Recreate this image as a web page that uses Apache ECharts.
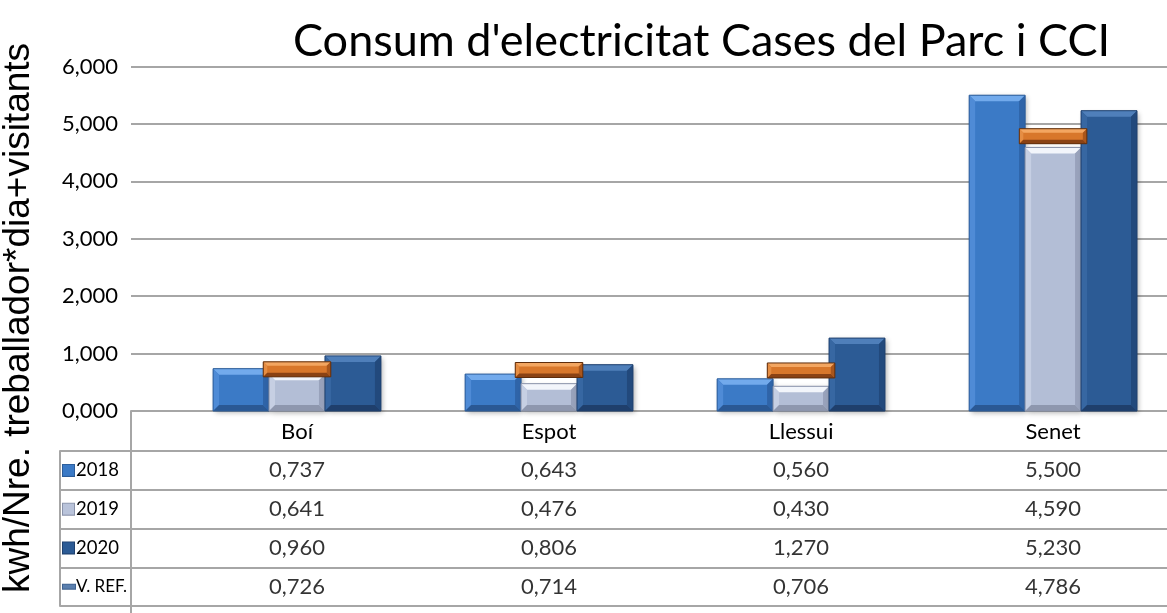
<!DOCTYPE html>
<html style="height: 100%">
<head>
<meta charset="utf-8">
<script src="https://cdn.jsdelivr.net/npm/echarts@6/dist/echarts.min.js"></script>
</head>
<body style="width:1167px;height:613px;margin:0;background:#fff">
<div id="container" style="width:1167px;height:613px;"></div>
<script type="text/javascript">
// data
var categories = ['Boí', 'Espot', 'Llessui', 'Senet'];
var rowNames = ['2018', '2019', '2020', 'V. REF.'];
var v2018 = [0.737, 0.643, 0.560, 5.500];
var v2019 = [0.641, 0.476, 0.430, 4.590];
var v2020 = [0.960, 0.806, 1.270, 5.230];
var vRef = [0.726, 0.714, 0.706, 4.786];
var yTicks = [0, 1, 2, 3, 4, 5, 6];

var FONT = 'Lato, sans-serif';
var GRID = '#a6a6a6';
var BAR_W = 0.222, REF_W = 0.268;

function fmt(v) { return v.toFixed(3).replace('.', ','); }

// palettes: face, top, left, right, bottom
var pal2018 = { face: '#3b7ac6', top: '#72aaec', left: '#4f8bd6', right: '#2f64a8', bottom: '#2a5894', edge: '#2c5c98' };
var pal2019 = { face: '#b3bed6', top: '#f2f5fb', left: '#c6cfe3', right: '#98a2bb', bottom: '#8e97ae', edge: '#8a93aa' };
var pal2020 = { face: '#2c5b95', top: '#4f7fba', left: '#3767a2', right: '#22497c', bottom: '#1f3f6c', edge: '#1f416f' };
var palRef = { face: '#d8772b', top: '#f3a661', left: '#e58d43', right: '#a9561c', bottom: '#8a4214', edge: '#5e2c0b' };

function bevel(x, y, w, h, p, b, shadow) {
    b = Math.min(b, h / 2);
    var kids = [
        { type: 'rect', shape: { x: x, y: y, width: w, height: h },
          style: shadow ? { fill: p.face, shadowBlur: 5, shadowColor: 'rgba(0,0,0,0.3)', shadowOffsetX: 2, shadowOffsetY: 2 } : { fill: p.face } },
        { type: 'polygon', shape: { points: [[x, y], [x + w, y], [x + w - b, y + b], [x + b, y + b]] }, style: { fill: p.top } },
        { type: 'polygon', shape: { points: [[x, y], [x + b, y + b], [x + b, y + h - b], [x, y + h]] }, style: { fill: p.left } },
        { type: 'polygon', shape: { points: [[x + w, y], [x + w, y + h], [x + w - b, y + h - b], [x + w - b, y + b]] }, style: { fill: p.right } },
        { type: 'polygon', shape: { points: [[x, y + h], [x + b, y + h - b], [x + w - b, y + h - b], [x + w, y + h]] }, style: { fill: p.bottom } },
        { type: 'rect', shape: { x: x, y: y, width: w, height: h }, style: { fill: 'none', stroke: p.edge, lineWidth: 1 } }
    ];
    return { type: 'group', children: kids };
}

function barSeries(name, values, offset, pal) {
    return {
        type: 'custom', name: name, z: 2,
        data: values.map(function (v, i) { return [i, v]; }),
        renderItem: function (params, api) {
            var i = api.value(0), v = api.value(1);
            var top = api.coord([i + offset, v]);
            var base = api.coord([i + offset, 0]);
            var w = api.size([BAR_W, 0])[0];
            return bevel(top[0] - w / 2, top[1], w, base[1] - top[1], pal, 6, true);
        }
    };
}

var tableData = [];
[v2018, v2019, v2020, vRef].forEach(function (arr, r) {
    arr.forEach(function (v, i) { tableData.push([i, r, v]); });
});

var iconRich = {
    i0: { width: 11, height: 11, backgroundColor: '#3b7ac6', borderColor: '#2c5c98', borderWidth: 1 },
    i1: { width: 11, height: 11, backgroundColor: '#b9c3da', borderColor: '#8a93aa', borderWidth: 1 },
    i2: { width: 11, height: 11, backgroundColor: '#2c5b95', borderColor: '#1f416f', borderWidth: 1 },
    i3: { width: 12, height: 4, backgroundColor: '#5a7fae', borderColor: '#3f628f', borderWidth: 1 },
    t: { fontSize: 18.5, fontFamily: FONT, color: '#000', padding: [0, 0, 0, 2] },
    r: { fontSize: 17, fontFamily: FONT, color: '#000', padding: [0, 0, 0, 1] }
};

var dom = document.getElementById('container');
var myChart = echarts.init(dom);
var option = {
    animation: false,
    title: {
        text: "Consum d'electricitat Cases del Parc i CCI",
        left: 288, top: 14,
        textStyle: { fontFamily: FONT, fontSize: 45, fontWeight: 'normal', color: '#000' }
    },
    graphic: [
        { type: 'text', x: 19, y: 318, rotation: Math.PI / 2,
          style: { text: 'kwh/Nre. treballador*dia+visitants', font: '37px "Liberation Sans"', fill: '#000',
                   textAlign: 'center', textVerticalAlign: 'middle' } },
        { type: 'line', shape: { x1: 131, y1: 411, x2: 131, y2: 613 }, style: { stroke: GRID, lineWidth: 2 } }
    ],
    grid: [
        { left: 131, right: 0, top: 66.5, bottom: 202 },
        { left: 60, right: 0, top: 451, bottom: 7 }
    ],
    xAxis: [
        { type: 'value', gridIndex: 0, min: -0.6587, max: 3.452,
          axisLine: { show: true, lineStyle: { color: GRID, width: 2 } },
          axisTick: { show: false }, splitLine: { show: false },
          axisLabel: { customValues: [0, 1, 2, 3], margin: 10, fontFamily: FONT, fontSize: 22, color: '#000',
                       formatter: function (v) { return categories[v] || ''; } } },
        { type: 'value', gridIndex: 1, min: -0.9405, max: 3.452, show: false }
    ],
    yAxis: [
        { type: 'value', gridIndex: 0, min: 0, max: 6, interval: 1,
          axisLine: { show: false }, axisTick: { show: false },
          splitLine: { lineStyle: { color: GRID, width: 2 } },
          axisLabel: { margin: 13, fontFamily: FONT, fontSize: 22, color: '#000',
                       customValues: yTicks, formatter: function (v) { return fmt(v); } } },
        { type: 'category', gridIndex: 1, data: rowNames, inverse: true,
          axisLine: { show: true, onZero: false, lineStyle: { color: GRID, width: 2 } },
          axisTick: { show: false },
          splitLine: { show: true, lineStyle: { color: GRID, width: 2 } },
          axisLabel: { inside: true, margin: 3, rich: iconRich,
                       formatter: function (v, idx) { return '{i' + idx + '|}{' + (idx === 3 ? 'r' : 't') + '|' + v + '}'; } } }
    ],
    series: [
        barSeries('2018', v2018, -BAR_W, pal2018),
        barSeries('2019', v2019, 0, pal2019),
        barSeries('2020', v2020, BAR_W, pal2020),
        {
            type: 'custom', name: 'V. REF.', z: 5,
            data: vRef.map(function (v, i) { return [i, v]; }),
            renderItem: function (params, api) {
                var c = api.coord([api.value(0), api.value(1)]);
                var w = api.size([REF_W, 0])[0];
                return bevel(c[0] - w / 2, c[1] - 7.5, w, 15, palRef, 4, false);
            }
        },
        {
            type: 'scatter', xAxisIndex: 1, yAxisIndex: 1, symbolSize: 0, silent: true,
            data: tableData,
            label: { show: true, position: 'inside', fontFamily: FONT, fontSize: 22, color: '#000',
                     formatter: function (p) { return fmt(p.value[2]); } }
        }
    ]
};
myChart.setOption(option);
</script>
</body>
</html>
